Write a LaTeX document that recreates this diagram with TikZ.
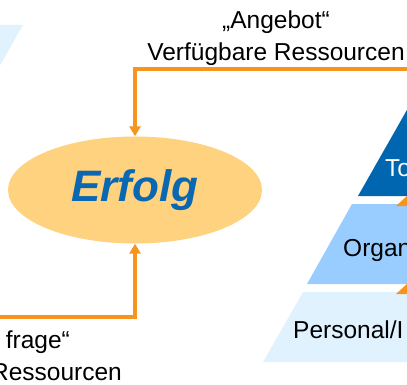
\documentclass[tikz,border=0pt]{standalone}
\usepackage{fontspec}
\setmainfont{Liberation Sans}
\usetikzlibrary{shapes, arrows.meta}
\definecolor{pfeilorange}{HTML}{F7941D}
\definecolor{erfolggelb}{HTML}{FED27E}
\definecolor{erfolgblau}{HTML}{0A67B2}
\definecolor{stufedunkel}{HTML}{0066B0}
\definecolor{stufemittel}{HTML}{99CCFF}
\definecolor{stufehell}{HTML}{E1F2FF}
\tikzstyle{ziel} = [ellipse, minimum width=254pt, minimum height=107pt, inner sep=0pt, fill=erfolggelb, text=erfolgblau, font=\fontsize{44}{44}\selectfont\bfseries\itshape]
\tikzstyle{beschriftung} = [font=\fontsize{24.5}{32}\selectfont, inner sep=0pt, align=center]
\tikzstyle{stufentext} = [font=\fontsize{24.5}{32}\selectfont, inner sep=0pt, anchor=base west]
\tikzstyle{arrow} = [line width=4.5pt, draw=pfeilorange, -{Triangle[width=11pt, length=10pt]}]

\begin{document}
\begin{tikzpicture}[x=1pt, y=-1pt]
\useasboundingbox (0,0) rectangle (407,385);
\clip (0,0) rectangle (407,385);
% Pyramidenstufen
\fill[stufehell] (-30,25) -- (23,25) -- (-2,69) -- (-30,69) -- cycle;
\fill[stufehell] (303,292) -- (263,362) -- (420,362) -- (420,292) -- cycle;
\fill[stufemittel] (352,204) -- (307,284) -- (420,284) -- (420,204) -- cycle;
\fill[pfeilorange] (396,294) -- (408,283) -- (420,294) -- cycle;
\fill[pfeilorange] (396,206) -- (408,195) -- (420,206) -- cycle;
\fill[stufedunkel] (358,196) -- (420,87) -- (480,196) -- cycle;

\node (erfolg) [ziel] at (135,190) {Erfolg};
\node (angebot) [beschriftung, anchor=base] at (276,61) {„Angebot“\\Verfügbare Ressourcen};
\node (nachfrage) [beschriftung, anchor=base east] at (70,348) {frage“};
\node (bedarf) [beschriftung, anchor=base east] at (122,380) {Ressourcen};
\node (tools) [stufentext, text=white] at (385,176) {To};
\node (organ) [stufentext] at (343,256) {Organ};
\node (personal) [stufentext] at (293,338) {Personal/I};

\coordinate (angebotrand) at (412,69);
\coordinate (nachfragerand) at (-5,317);
\draw[arrow] (angebotrand) -| (erfolg.north);
\draw[arrow] (nachfragerand) -| (erfolg.south);
\end{tikzpicture}
\end{document}
